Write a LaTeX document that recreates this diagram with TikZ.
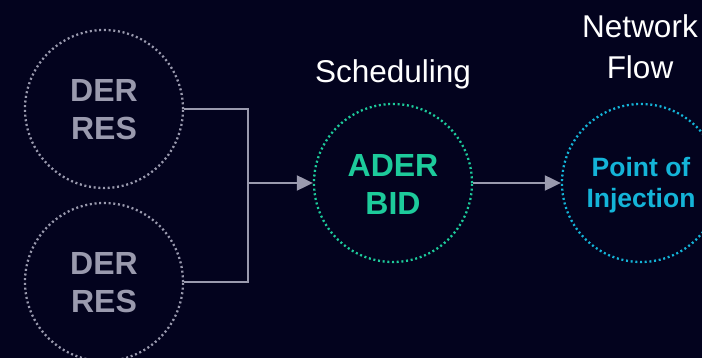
\documentclass[tikz,border=0pt]{standalone}
\usepackage{fontspec}
\setmainfont{Liberation Sans}
\usetikzlibrary{arrows.meta}
\definecolor{bg}{HTML}{03031E}
\definecolor{grayc}{HTML}{9A9AAE}
\definecolor{greenc}{HTML}{1DCB9B}
\definecolor{cyanc}{HTML}{14B4D8}
\tikzset{
  dotcirc/.style={circle, minimum size=158pt, inner sep=0pt, line width=2.3pt, dash pattern=on 2pt off 2.7pt},
  lbl/.style={font=\fontsize{32}{38}\selectfont\bfseries, align=center},
  lblsm/.style={font=\fontsize{26.5}{31}\selectfont\bfseries, align=center},
  title/.style={font=\fontsize{31.5}{41}\selectfont, text=white, align=center},
  conn/.style={draw=grayc, line width=2pt},
  tip/.style={-{Triangle[length=16pt,width=15pt]}}
}
\begin{document}
\begin{tikzpicture}[x=1pt,y=-1pt]
\fill[bg] (0,0) rectangle (702,358);
\useasboundingbox (0,0) rectangle (702,358);
\node[dotcirc, draw=grayc] (d1) at (104,109) {};
\node[lbl, text=grayc] (d1t) at (104,110) {DER\\RES};
\node[dotcirc, draw=grayc] (d2) at (104,282) {};
\node[lbl, text=grayc] (d2t) at (104,283) {DER\\RES};
\node[dotcirc, draw=greenc] (ad) at (393,183) {};
\node[lbl, text=greenc] (adt) at (393,184) {ADER\\BID};
\node[dotcirc, draw=cyanc] (pi) at (641,183) {};
\node[lblsm, text=cyanc] (pit) at (641,185) {Point of\\Injection};
\node[title] (sch) at (393,74) {Scheduling};
\node[title] (nf) at (640,47) {Network\\Flow};
\coordinate (j1) at (248,109);
\coordinate (j2) at (248,282);
\coordinate (jm) at (248,183);
\draw[conn] (d1.east) -- (j1) -- (j2) -- (d2.east);
\draw[conn, tip] (jm) -- (ad.west);
\draw[conn, tip] (ad.east) -- (pi.west);
\end{tikzpicture}
\end{document}
